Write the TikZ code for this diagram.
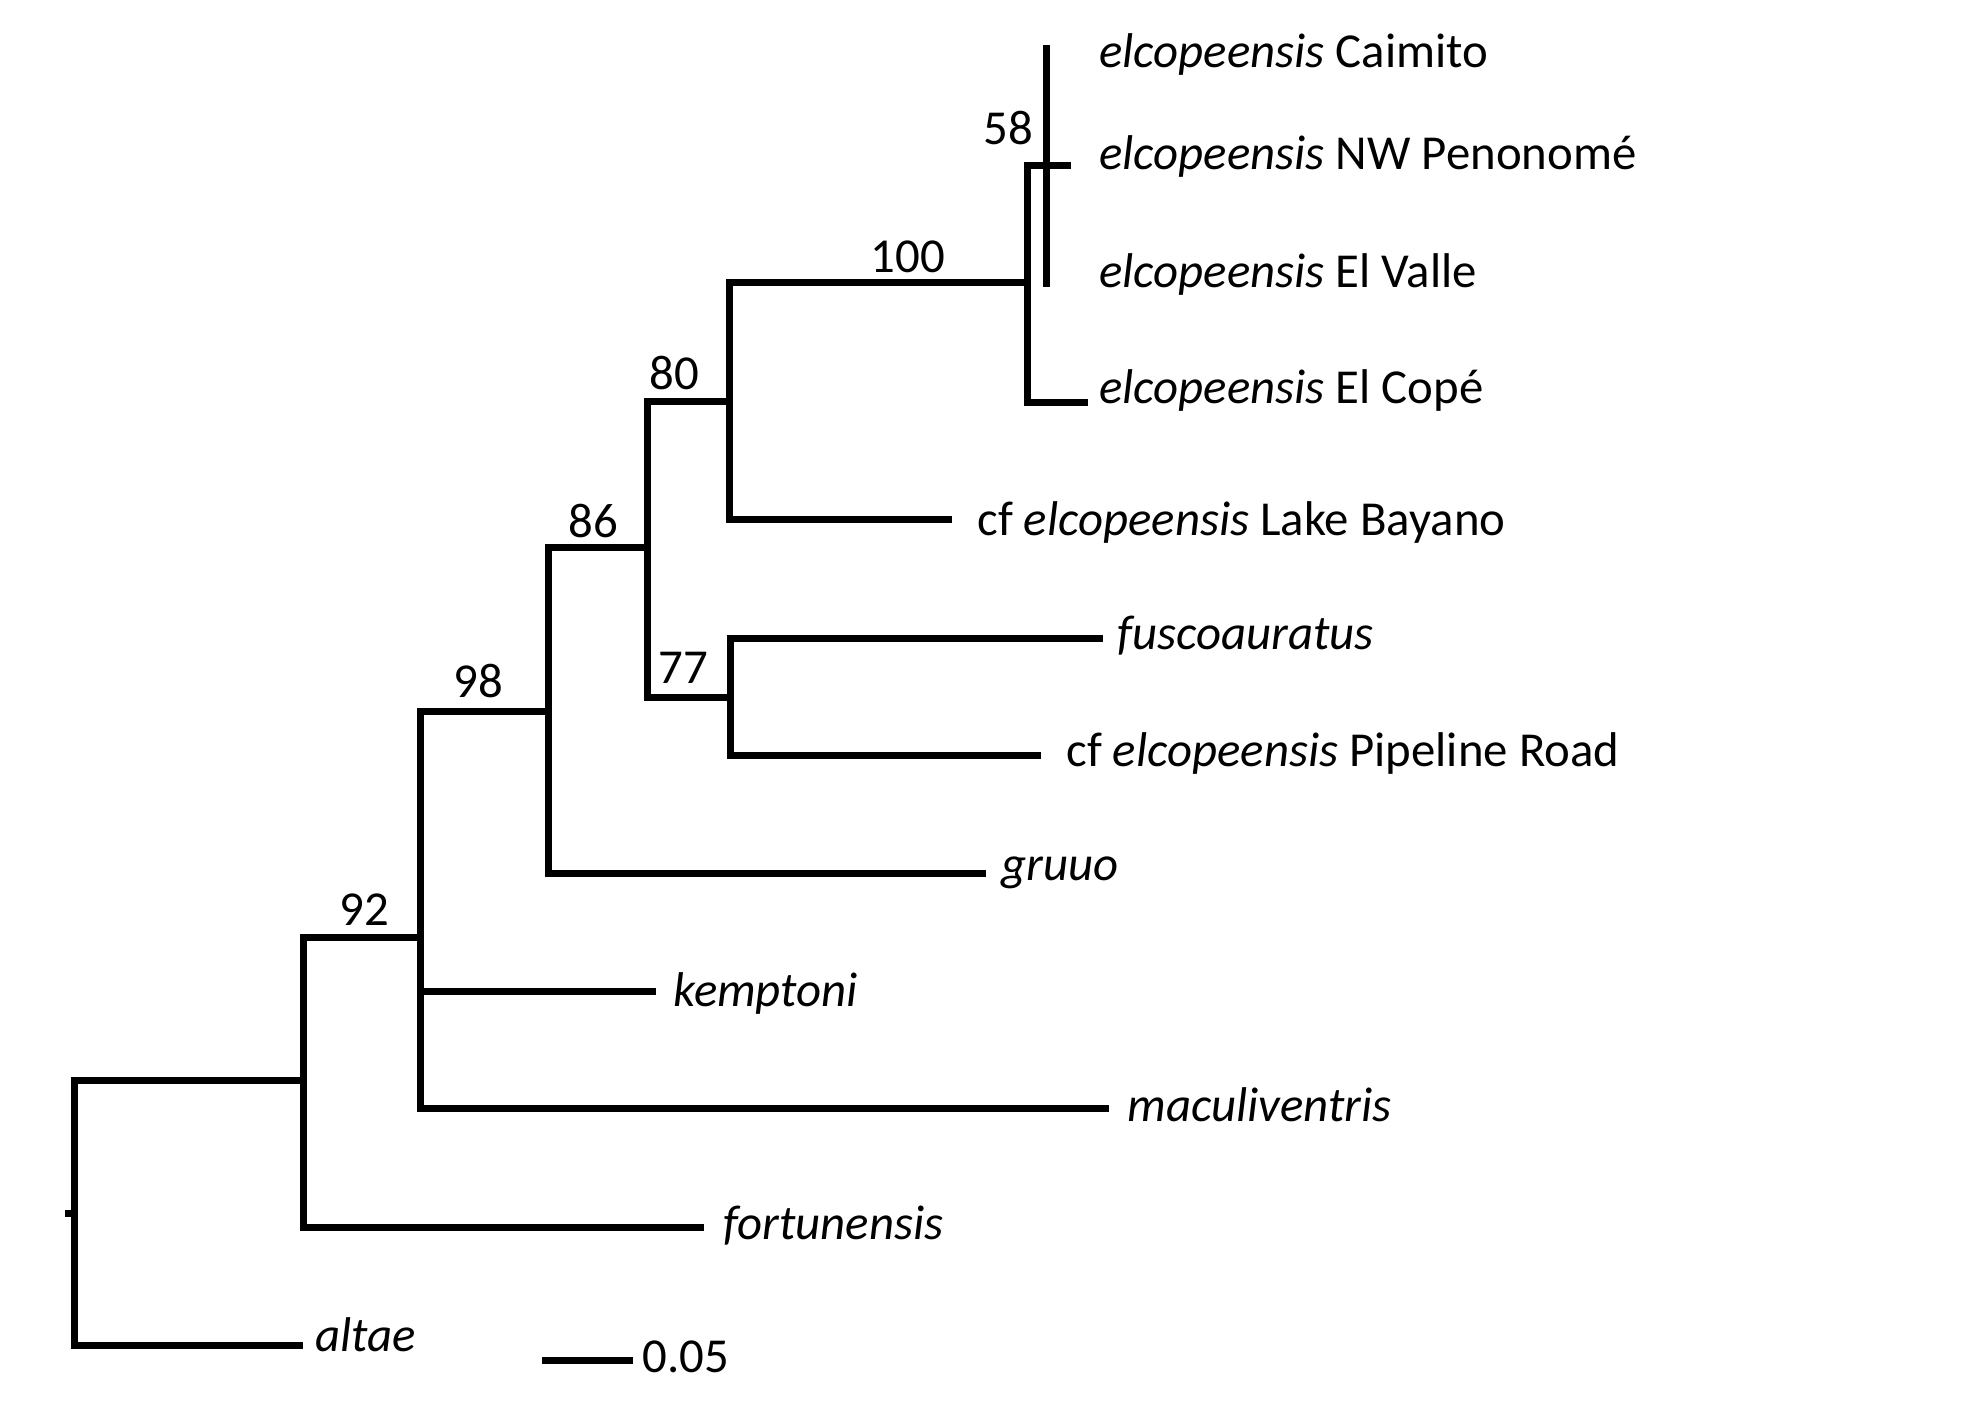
\documentclass[tikz,border=0pt]{standalone}
\usepackage{fontspec}
\setmainfont{Carlito}
\begin{document}
\begin{tikzpicture}[x=0.5pt,y=-0.5pt,
  br/.style={line width=3.5pt,line join=miter,line cap=butt},
  lab/.style={anchor=base west,inner sep=0pt,font=\fontsize{24.4pt}{28pt}\selectfont},
  bs/.style={anchor=base,inner sep=0pt,font=\fontsize{24.4pt}{28pt}\selectfont}]
\useasboundingbox (0,0) rectangle (1962,1406);
% internal nodes
\coordinate (stub) at (65,1213);
\coordinate (R) at (74,1213);
\coordinate (A) at (303,1080);
\coordinate (B) at (420,937);
\coordinate (C) at (548,711);
\coordinate (D) at (647,547);
\coordinate (E) at (730,697);
\coordinate (F) at (729,402);
\coordinate (G) at (1027,283);
\coordinate (H) at (1046,166);
% tips
\coordinate (t1) at (1046,45);
\coordinate (t2) at (1071,166);
\coordinate (t3) at (1046,287);
\coordinate (t4) at (1088,403);
\coordinate (t5) at (952,519);
\coordinate (t6) at (1103,638);
\coordinate (t7) at (1041,755);
\coordinate (t8) at (986,873);
\coordinate (t9) at (656,991);
\coordinate (t10) at (1109,1108);
\coordinate (t11) at (704,1227);
\coordinate (t12) at (303,1345);
% branches
\draw[br] (stub) -- (R);
\draw[br] (A) -| (R) |- (t12);
\draw[br] (B) -| (A) |- (t11);
\draw[br] (C) -| (B) |- (t10);
\draw[br] (B |- t9) -- (t9);
\draw[br] (D) -| (C) |- (t8);
\draw[br] (F) -| (D) |- (E);
\draw[br] (t6) -| (E) |- (t7);
\draw[br] (G) -| (F) |- (t5);
\draw[br] (H) -| (G) |- (t4);
\draw[br] (t1) -- (t3);
\draw[br] (H) -- (t2);
% leaf labels
\node[lab] (l1) at (1099,68) {\textit{elcopeensis} Caimito};
\node[lab] (l2) at (1099,170) {\textit{elcopeensis} NW Penonomé};
\node[lab] (l3) at (1099,288) {\textit{elcopeensis} El Valle};
\node[lab] (l4) at (1099,404) {\textit{elcopeensis} El Copé};
\node[lab] (l5) at (977,535) {cf \textit{elcopeensis} Lake Bayano};
\node[lab] (l6) at (1117,649) {\textit{fuscoauratus}};
\node[lab] (l7) at (1066,766) {cf \textit{elcopeensis} Pipeline Road};
\node[lab] (l8) at (1001,880) {\textit{gruuo}};
\node[lab] (l9) at (673,1006) {\textit{kemptoni}};
\node[lab] (l10) at (1127,1121) {\textit{maculiventris}};
\node[lab] (l11) at (723,1239) {\textit{fortunensis}};
\node[lab] (l12) at (315,1351) {\textit{altae}};
% support values
\node[bs] (b58) at (1008,145) {58};
\node[bs] (b100) at (908,273) {100};
\node[bs] (b80) at (674,390) {80};
\node[bs] (b86) at (593,537) {86};
\node[bs] (b98) at (478,697) {98};
\node[bs] (b92) at (364,925) {92};
\node[bs] (b77) at (683,683) {77};
% scale bar
\coordinate (s1) at (542,1360);
\coordinate (s2) at (633,1360);
\draw[br] (s1) -- (s2);
\node[lab] (sl) at (642,1372) {0.05};
\end{tikzpicture}
\end{document}
